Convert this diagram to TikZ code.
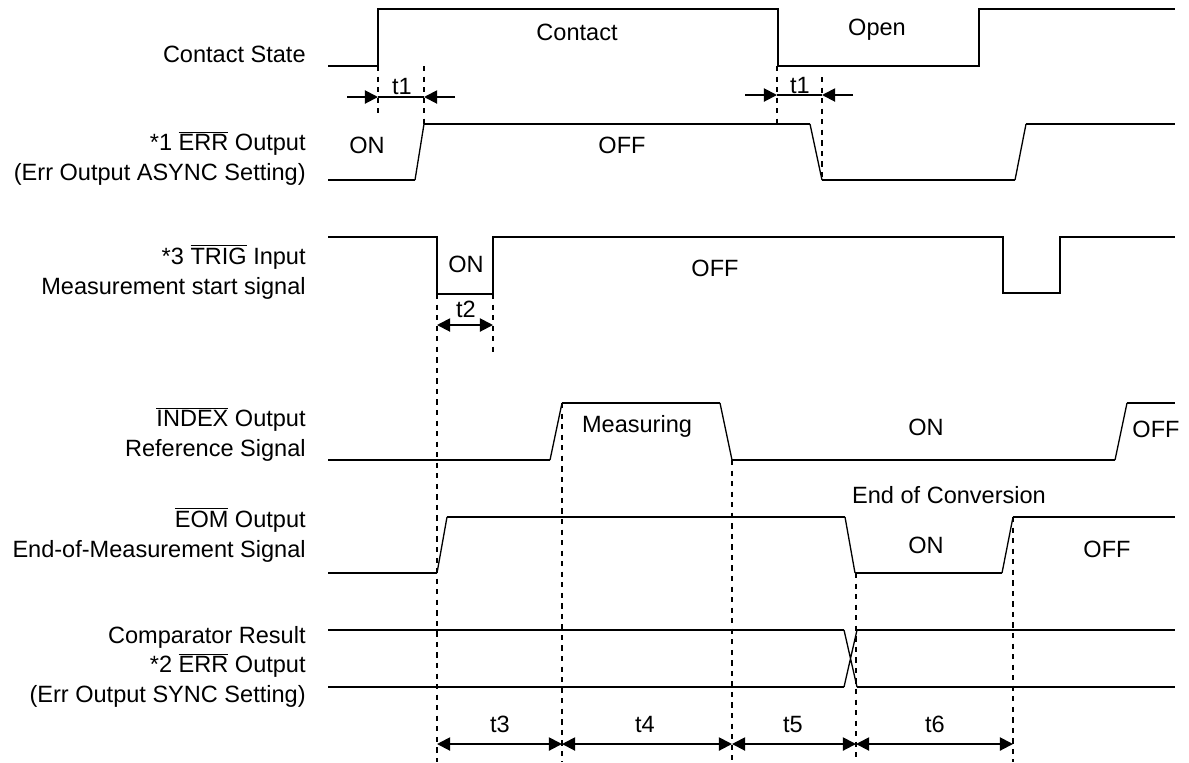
\documentclass[tikz,border=0pt]{standalone}
\usepackage{fontspec}
\setmainfont{Liberation Sans}
\usepackage{tikz}
\usetikzlibrary{arrows.meta,positioning}
\newcommand{\ovl}[1]{\ensuremath{\overline{\mbox{#1}}}}

\begin{document}
\begin{tikzpicture}[
    x=0.02cm,y=-0.02cm,
    every node/.style={font=\fontsize{13.4}{16.7}\selectfont,inner sep=0pt},
    siglabel/.style={anchor=base east,align=right},
    val/.style={anchor=base},
    sig/.style={line width=1.1pt},
    ramp/.style={line width=0.75pt},
    guide/.style={line width=0.9pt,dash pattern=on 3pt off 3pt},
    dim/.style={line width=1.1pt,{Triangle[length=7.5pt,width=7.5pt]}-{Triangle[length=7.5pt,width=7.5pt]}},
    tip/.style={line width=1.1pt,-{Triangle[length=7.5pt,width=7.5pt]}}
  ]
    \useasboundingbox (0,0) rectangle (1189,762);

    % signal names (base = last line)
    \node[siglabel] (lcontact) at (306,62) {Contact State};
    \node[siglabel] (lerr) at (306,180) {*1 \ovl{ERR} Output\\(Err Output ASYNC Setting)};
    \node[siglabel] (ltrig) at (306,294) {*3 \ovl{TRIG} Input\\Measurement start signal};
    \node[siglabel] (lindex) at (306,456) {\ovl{INDEX} Output\\Reference Signal};
    \node[siglabel] (leom) at (306,557) {\ovl{EOM} Output\\End-of-Measurement Signal};
    \node[siglabel] (lcomp) at (306,702) {Comparator Result\\*2 \ovl{ERR} Output\\(Err Output SYNC Setting)};

    % waveforms
    \draw[sig] (328,66) -- (378,66) -- (378,9) -- (778,9) -- (778,66) -- (979,66) -- (979,9) -- (1175,9);
    \draw[sig] (328,180) -- (415,180) (424,124) -- (810,124) (822,180) -- (1015,180) (1026,124) -- (1175,124);
    \draw[ramp] (415,180) -- (424,124) (810,124) -- (822,180) (1015,180) -- (1026,124);
    \draw[sig] (328,237) -- (437,237) -- (437,294) -- (493,294) -- (493,237) -- (1003,237)
      -- (1003,293) -- (1060,293) -- (1060,237) -- (1175,237);
    \draw[sig] (328,460) -- (550,460) (562,403) -- (720,403) (732,460) -- (1115,460) (1127,403) -- (1175,403);
    \draw[ramp] (550,460) -- (562,403) (720,403) -- (732,460) (1115,460) -- (1127,403);
    \draw[sig] (328,573) -- (437,573) (447,517) -- (845,517) (855,573) -- (1002,573) (1013,517) -- (1175,517);
    \draw[ramp] (437,573) -- (447,517) (845,517) -- (855,573) (1002,573) -- (1013,517);
    \draw[sig] (328,630) -- (844,630) (857,630) -- (1175,630) (328,687) -- (844,687) (857,687) -- (1175,687);
    \draw[ramp] (844,630) -- (857,687) (844,687) -- (857,630);

    % state texts
    \node[val] (contact) at (577,40) {Contact};
    \node[val] (open) at (877,35) {Open};
    \node[val] (erron) at (367,153) {ON};
    \node[val] (erroff) at (622,153) {OFF};
    \node[val] (trigon) at (466,272) {ON};
    \node[val] (trigoff) at (715,276) {OFF};
    \node[val] (meas) at (637,432) {Measuring};
    \node[val] (idxon) at (926,435) {ON};
    \node[val] (idxoff) at (1156,437) {OFF};
    \node[val] (eoc) at (949,503) {End of Conversion};
    \node[val] (eomon) at (926,553) {ON};
    \node[val] (eomoff) at (1107,557) {OFF};

    % timing guides
    \draw[guide] (378,66) -- (378,114) (424,66) -- (424,124) (777,66) -- (777,124) (822,77) -- (822,180)
      (437,294) -- (437,762) (493,294) -- (493,352) (562,403) -- (562,762) (732,460) -- (732,762)
      (856,573) -- (856,762) (1013,517) -- (1013,762);

    % t1
    \coordinate (t1a) at (347,97);  \coordinate (t1b) at (378,97);
    \coordinate (t1c) at (424,97);  \coordinate (t1d) at (455,97);
    \draw[tip] (t1a) -- (t1b);
    \draw[sig] (t1b) -- (t1c);
    \draw[tip] (t1d) -- (t1c);
    \node[val] (t1l) at (402,94) {t1};
    \coordinate (t1e) at (745,95);  \coordinate (t1f) at (777,95);
    \coordinate (t1g) at (822,95);  \coordinate (t1h) at (853,95);
    \draw[tip] (t1e) -- (t1f);
    \draw[sig] (t1f) -- (t1g);
    \draw[tip] (t1h) -- (t1g);
    \node[val] (t1r) at (800,93) {t1};

    % t2 .. t6
    \coordinate (m1) at (437,325);  \coordinate (m2) at (493,325);
    \draw[dim] (m1) -- (m2);
    \node[val] (t2l) at (466,317) {t2};
    \coordinate (m3) at (437,744);  \coordinate (m4) at (562,744);
    \coordinate (m5) at (732,744);  \coordinate (m6) at (856,744);
    \coordinate (m7) at (1013,744);
    \foreach \a/\b in {m3/m4,m4/m5,m5/m6,m6/m7}
      \draw[dim] (\a) -- (\b);
    \node[val] (t3l) at (500,732) {t3};
    \node[val] (t4l) at (645,732) {t4};
    \node[val] (t5l) at (793,732) {t5};
    \node[val] (t6l) at (935,732) {t6};
\end{tikzpicture}
\end{document}
